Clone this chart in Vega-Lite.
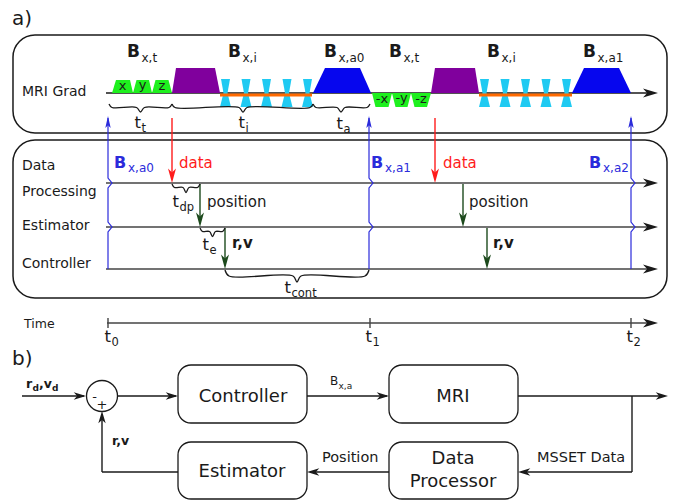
{
"$schema": "https://vega.github.io/schema/vega-lite/v6.json",
"width": 673, "height": 502, "padding": 0, "autosize": {"type": "none"},
"background": "white",
"config": {"view": {"stroke": null}, "font": "DejaVu Sans"},
"datasets": {
"panels": [
{"x":13,"y":35,"x2":667,"y2":133,"grp":"ink"},
{"x":13,"y":140,"x2":667,"y2":298,"grp":"ink"}],
"blocks": [
{"x":178,"y":365,"x2":307,"y2":423,"grp":"ink"},
{"x":389,"y":365,"x2":518,"y2":423,"grp":"ink"},
{"x":178,"y":442,"x2":307,"y2":499,"grp":"ink"},
{"x":389,"y":442,"x2":518,"y2":499,"grp":"ink"}],
"segs": [
{"x":106,"y":93,"x2":652,"y2":93,"grp":"ink"},
{"x":106,"y":183,"x2":652,"y2":183,"grp":"track"},
{"x":106,"y":227,"x2":652,"y2":227,"grp":"track"},
{"x":106,"y":269,"x2":652,"y2":269,"grp":"track"},
{"x":107,"y":323,"x2":652,"y2":323,"grp":"track"},
{"x":108,"y":318,"x2":108,"y2":328,"grp":"track"},
{"x":370,"y":318,"x2":370,"y2":328,"grp":"track"},
{"x":631,"y":318,"x2":631,"y2":328,"grp":"track"},
{"x":172,"y":118,"x2":172,"y2":178,"grp":"data"},
{"x":435,"y":118,"x2":435,"y2":178,"grp":"data"},
{"x":200,"y":184,"x2":200,"y2":222,"grp":"flow"},
{"x":225,"y":228,"x2":225,"y2":264,"grp":"flow"},
{"x":463,"y":184,"x2":463,"y2":222,"grp":"flow"},
{"x":487,"y":228,"x2":487,"y2":264,"grp":"flow"},
{"x":22,"y":396,"x2":84,"y2":396,"grp":"ink"},
{"x":117.5,"y":396,"x2":176,"y2":396,"grp":"ink"},
{"x":307,"y":396,"x2":387,"y2":396,"grp":"ink"},
{"x":518,"y":396,"x2":664,"y2":396,"grp":"ink"},
{"x":632,"y":396,"x2":632,"y2":472,"grp":"ink"},
{"x":632,"y":472,"x2":521,"y2":472,"grp":"ink"},
{"x":389,"y":472,"x2":310,"y2":472,"grp":"ink"},
{"x":178,"y":472,"x2":102,"y2":472,"grp":"ink"},
{"x":102,"y":472,"x2":102,"y2":414,"grp":"ink"}],
"readout": [
{"x":220,"y":95,"x2":312,"y2":95,"grp":"readout"},
{"x":479,"y":95,"x2":572,"y2":95,"grp":"readout"}],
"shapes": [
{"id":"g1","x":112,"y":93,"y2":93,"grp":"tag"},{"id":"g1","x":116,"y":80,"y2":93,"grp":"tag"},{"id":"g1","x":130,"y":80,"y2":93,"grp":"tag"},{"id":"g1","x":133,"y":93,"y2":93,"grp":"tag"},
{"id":"g2","x":133,"y":93,"y2":93,"grp":"tag"},{"id":"g2","x":136.5,"y":80,"y2":93,"grp":"tag"},{"id":"g2","x":149,"y":80,"y2":93,"grp":"tag"},{"id":"g2","x":152,"y":93,"y2":93,"grp":"tag"},
{"id":"g3","x":152,"y":93,"y2":93,"grp":"tag"},{"id":"g3","x":155.5,"y":80,"y2":93,"grp":"tag"},{"id":"g3","x":168.5,"y":80,"y2":93,"grp":"tag"},{"id":"g3","x":172,"y":93,"y2":93,"grp":"tag"},
{"id":"p1","x":172,"y":93,"y2":93,"grp":"prephase"},{"id":"p1","x":176,"y":68,"y2":93,"grp":"prephase"},{"id":"p1","x":215,"y":68,"y2":93,"grp":"prephase"},{"id":"p1","x":220,"y":93,"y2":93,"grp":"prephase"},
{"id":"a1","x":313,"y":93,"y2":93,"grp":"actuation"},{"id":"a1","x":325,"y":68,"y2":93,"grp":"actuation"},{"id":"a1","x":360,"y":68,"y2":93,"grp":"actuation"},{"id":"a1","x":371,"y":93,"y2":93,"grp":"actuation"},
{"id":"n1","x":372,"y":93,"y2":93,"grp":"tag"},{"id":"n1","x":375.5,"y":93,"y2":107,"grp":"tag"},{"id":"n1","x":388.5,"y":93,"y2":107,"grp":"tag"},{"id":"n1","x":392,"y":93,"y2":93,"grp":"tag"},
{"id":"n2","x":392,"y":93,"y2":93,"grp":"tag"},{"id":"n2","x":395.5,"y":93,"y2":107,"grp":"tag"},{"id":"n2","x":407.5,"y":93,"y2":107,"grp":"tag"},{"id":"n2","x":411,"y":93,"y2":93,"grp":"tag"},
{"id":"n3","x":411,"y":93,"y2":93,"grp":"tag"},{"id":"n3","x":414.5,"y":93,"y2":107,"grp":"tag"},{"id":"n3","x":427,"y":93,"y2":107,"grp":"tag"},{"id":"n3","x":431,"y":93,"y2":93,"grp":"tag"},
{"id":"p2","x":431,"y":93,"y2":93,"grp":"prephase"},{"id":"p2","x":435,"y":68,"y2":93,"grp":"prephase"},{"id":"p2","x":475,"y":68,"y2":93,"grp":"prephase"},{"id":"p2","x":479,"y":93,"y2":93,"grp":"prephase"},
{"id":"a2","x":572,"y":93,"y2":93,"grp":"actuation"},{"id":"a2","x":584,"y":68,"y2":93,"grp":"actuation"},{"id":"a2","x":619,"y":68,"y2":93,"grp":"actuation"},{"id":"a2","x":631,"y":93,"y2":93,"grp":"actuation"},
{"id":"u1","x":221,"y":79,"y2":79,"grp":"imaging"},{"id":"u1","x":223.5,"y":79,"y2":93,"grp":"imaging"},{"id":"u1","x":227.5,"y":79,"y2":93,"grp":"imaging"},{"id":"u1","x":230,"y":79,"y2":79,"grp":"imaging"},
{"id":"l1","x":220,"y":107,"y2":107,"grp":"imaging"},{"id":"l1","x":223.5,"y":93,"y2":107,"grp":"imaging"},{"id":"l1","x":227.5,"y":93,"y2":107,"grp":"imaging"},{"id":"l1","x":231,"y":107,"y2":107,"grp":"imaging"},
{"id":"u2","x":241.5,"y":79,"y2":79,"grp":"imaging"},{"id":"u2","x":244,"y":79,"y2":93,"grp":"imaging"},{"id":"u2","x":248,"y":79,"y2":93,"grp":"imaging"},{"id":"u2","x":250.5,"y":79,"y2":79,"grp":"imaging"},
{"id":"l2","x":240.5,"y":107,"y2":107,"grp":"imaging"},{"id":"l2","x":244,"y":93,"y2":107,"grp":"imaging"},{"id":"l2","x":248,"y":93,"y2":107,"grp":"imaging"},{"id":"l2","x":251.5,"y":107,"y2":107,"grp":"imaging"},
{"id":"u3","x":262,"y":79,"y2":79,"grp":"imaging"},{"id":"u3","x":264.5,"y":79,"y2":93,"grp":"imaging"},{"id":"u3","x":268.5,"y":79,"y2":93,"grp":"imaging"},{"id":"u3","x":271,"y":79,"y2":79,"grp":"imaging"},
{"id":"l3","x":261,"y":107,"y2":107,"grp":"imaging"},{"id":"l3","x":264.5,"y":93,"y2":107,"grp":"imaging"},{"id":"l3","x":268.5,"y":93,"y2":107,"grp":"imaging"},{"id":"l3","x":272,"y":107,"y2":107,"grp":"imaging"},
{"id":"u4","x":282.5,"y":79,"y2":79,"grp":"imaging"},{"id":"u4","x":285,"y":79,"y2":93,"grp":"imaging"},{"id":"u4","x":289,"y":79,"y2":93,"grp":"imaging"},{"id":"u4","x":291.5,"y":79,"y2":79,"grp":"imaging"},
{"id":"l4","x":281.5,"y":107,"y2":107,"grp":"imaging"},{"id":"l4","x":285,"y":93,"y2":107,"grp":"imaging"},{"id":"l4","x":289,"y":93,"y2":107,"grp":"imaging"},{"id":"l4","x":292.5,"y":107,"y2":107,"grp":"imaging"},
{"id":"u5","x":303,"y":79,"y2":79,"grp":"imaging"},{"id":"u5","x":305.5,"y":79,"y2":93,"grp":"imaging"},{"id":"u5","x":309.5,"y":79,"y2":93,"grp":"imaging"},{"id":"u5","x":312,"y":79,"y2":79,"grp":"imaging"},
{"id":"l5","x":302,"y":107,"y2":107,"grp":"imaging"},{"id":"l5","x":305.5,"y":93,"y2":107,"grp":"imaging"},{"id":"l5","x":309.5,"y":93,"y2":107,"grp":"imaging"},{"id":"l5","x":313,"y":107,"y2":107,"grp":"imaging"},
{"id":"u6","x":480,"y":79,"y2":79,"grp":"imaging"},{"id":"u6","x":482.5,"y":79,"y2":93,"grp":"imaging"},{"id":"u6","x":486.5,"y":79,"y2":93,"grp":"imaging"},{"id":"u6","x":489,"y":79,"y2":79,"grp":"imaging"},
{"id":"l6","x":479,"y":107,"y2":107,"grp":"imaging"},{"id":"l6","x":482.5,"y":93,"y2":107,"grp":"imaging"},{"id":"l6","x":486.5,"y":93,"y2":107,"grp":"imaging"},{"id":"l6","x":490,"y":107,"y2":107,"grp":"imaging"},
{"id":"u7","x":500.5,"y":79,"y2":79,"grp":"imaging"},{"id":"u7","x":503,"y":79,"y2":93,"grp":"imaging"},{"id":"u7","x":507,"y":79,"y2":93,"grp":"imaging"},{"id":"u7","x":509.5,"y":79,"y2":79,"grp":"imaging"},
{"id":"l7","x":499.5,"y":107,"y2":107,"grp":"imaging"},{"id":"l7","x":503,"y":93,"y2":107,"grp":"imaging"},{"id":"l7","x":507,"y":93,"y2":107,"grp":"imaging"},{"id":"l7","x":510.5,"y":107,"y2":107,"grp":"imaging"},
{"id":"u8","x":521,"y":79,"y2":79,"grp":"imaging"},{"id":"u8","x":523.5,"y":79,"y2":93,"grp":"imaging"},{"id":"u8","x":527.5,"y":79,"y2":93,"grp":"imaging"},{"id":"u8","x":530,"y":79,"y2":79,"grp":"imaging"},
{"id":"l8","x":520,"y":107,"y2":107,"grp":"imaging"},{"id":"l8","x":523.5,"y":93,"y2":107,"grp":"imaging"},{"id":"l8","x":527.5,"y":93,"y2":107,"grp":"imaging"},{"id":"l8","x":531,"y":107,"y2":107,"grp":"imaging"},
{"id":"u9","x":541.5,"y":79,"y2":79,"grp":"imaging"},{"id":"u9","x":544,"y":79,"y2":93,"grp":"imaging"},{"id":"u9","x":548,"y":79,"y2":93,"grp":"imaging"},{"id":"u9","x":550.5,"y":79,"y2":79,"grp":"imaging"},
{"id":"l9","x":540.5,"y":107,"y2":107,"grp":"imaging"},{"id":"l9","x":544,"y":93,"y2":107,"grp":"imaging"},{"id":"l9","x":548,"y":93,"y2":107,"grp":"imaging"},{"id":"l9","x":551.5,"y":107,"y2":107,"grp":"imaging"},
{"id":"u10","x":562,"y":79,"y2":79,"grp":"imaging"},{"id":"u10","x":564.5,"y":79,"y2":93,"grp":"imaging"},{"id":"u10","x":568.5,"y":79,"y2":93,"grp":"imaging"},{"id":"u10","x":571,"y":79,"y2":79,"grp":"imaging"},
{"id":"l10","x":561,"y":107,"y2":107,"grp":"imaging"},{"id":"l10","x":564.5,"y":93,"y2":107,"grp":"imaging"},{"id":"l10","x":568.5,"y":93,"y2":107,"grp":"imaging"},{"id":"l10","x":572,"y":107,"y2":107,"grp":"imaging"}],
"braces": [
{"id":"bt","i":0,"x":109,"y":104,"grp":"ink"},{"id":"bt","i":1,"x":112,"y":107.5,"grp":"ink"},{"id":"bt","i":2,"x":136.5,"y":107.5,"grp":"ink"},{"id":"bt","i":3,"x":140.5,"y":112,"grp":"ink"},{"id":"bt","i":4,"x":144.5,"y":107.5,"grp":"ink"},{"id":"bt","i":5,"x":169,"y":107.5,"grp":"ink"},{"id":"bt","i":6,"x":172,"y":104,"grp":"ink"},
{"id":"bi","i":0,"x":172,"y":104,"grp":"ink"},{"id":"bi","i":1,"x":175,"y":107.5,"grp":"ink"},{"id":"bi","i":2,"x":239,"y":107.5,"grp":"ink"},{"id":"bi","i":3,"x":243,"y":112,"grp":"ink"},{"id":"bi","i":4,"x":247,"y":107.5,"grp":"ink"},{"id":"bi","i":5,"x":310,"y":107.5,"grp":"ink"},{"id":"bi","i":6,"x":313,"y":104,"grp":"ink"},
{"id":"ba","i":0,"x":313,"y":104,"grp":"ink"},{"id":"ba","i":1,"x":316,"y":107.5,"grp":"ink"},{"id":"ba","i":2,"x":337,"y":107.5,"grp":"ink"},{"id":"ba","i":3,"x":341,"y":112,"grp":"ink"},{"id":"ba","i":4,"x":345,"y":107.5,"grp":"ink"},{"id":"ba","i":5,"x":367,"y":107.5,"grp":"ink"},{"id":"ba","i":6,"x":370,"y":104,"grp":"ink"},
{"id":"bd","i":0,"x":172,"y":184,"grp":"ink"},{"id":"bd","i":1,"x":174.5,"y":187.5,"grp":"ink"},{"id":"bd","i":2,"x":183,"y":187.5,"grp":"ink"},{"id":"bd","i":3,"x":186,"y":192.5,"grp":"ink"},{"id":"bd","i":4,"x":189,"y":187.5,"grp":"ink"},{"id":"bd","i":5,"x":197.5,"y":187.5,"grp":"ink"},{"id":"bd","i":6,"x":200,"y":184,"grp":"ink"},
{"id":"be","i":0,"x":200,"y":228,"grp":"ink"},{"id":"be","i":1,"x":202.5,"y":231.5,"grp":"ink"},{"id":"be","i":2,"x":209.5,"y":231.5,"grp":"ink"},{"id":"be","i":3,"x":212.5,"y":236.5,"grp":"ink"},{"id":"be","i":4,"x":215.5,"y":231.5,"grp":"ink"},{"id":"be","i":5,"x":222.5,"y":231.5,"grp":"ink"},{"id":"be","i":6,"x":225,"y":228,"grp":"ink"},
{"id":"bc","i":0,"x":225,"y":270,"grp":"ink"},{"id":"bc","i":1,"x":229,"y":276,"grp":"ink"},{"id":"bc","i":2,"x":293,"y":276,"grp":"ink"},{"id":"bc","i":3,"x":297,"y":282,"grp":"ink"},{"id":"bc","i":4,"x":301,"y":276,"grp":"ink"},{"id":"bc","i":5,"x":365,"y":276,"grp":"ink"},{"id":"bc","i":6,"x":369,"y":270,"grp":"ink"}],
"syncs": [
{"id":"s0","i":0,"x":108,"y":118,"grp":"acq"},{"id":"s0","i":1,"x":108,"y":178,"grp":"acq"},{"id":"s0","i":2,"x":112,"y":183,"grp":"acq"},{"id":"s0","i":3,"x":108,"y":188,"grp":"acq"},{"id":"s0","i":4,"x":108,"y":222,"grp":"acq"},{"id":"s0","i":5,"x":112,"y":227,"grp":"acq"},{"id":"s0","i":6,"x":108,"y":232,"grp":"acq"},{"id":"s0","i":7,"x":108,"y":269,"grp":"acq"},
{"id":"s1","i":0,"x":369,"y":118,"grp":"acq"},{"id":"s1","i":1,"x":369,"y":178,"grp":"acq"},{"id":"s1","i":2,"x":373,"y":183,"grp":"acq"},{"id":"s1","i":3,"x":369,"y":188,"grp":"acq"},{"id":"s1","i":4,"x":369,"y":222,"grp":"acq"},{"id":"s1","i":5,"x":373,"y":227,"grp":"acq"},{"id":"s1","i":6,"x":369,"y":232,"grp":"acq"},{"id":"s1","i":7,"x":369,"y":269,"grp":"acq"},
{"id":"s2","i":0,"x":631,"y":118,"grp":"acq"},{"id":"s2","i":1,"x":631,"y":178,"grp":"acq"},{"id":"s2","i":2,"x":635,"y":183,"grp":"acq"},{"id":"s2","i":3,"x":631,"y":188,"grp":"acq"},{"id":"s2","i":4,"x":631,"y":222,"grp":"acq"},{"id":"s2","i":5,"x":635,"y":227,"grp":"acq"},{"id":"s2","i":6,"x":631,"y":232,"grp":"acq"},{"id":"s2","i":7,"x":631,"y":269,"grp":"acq"}],
"sum": [{"x":102,"y":396,"grp":"ink"}],
"heads": [
{"dir":"rt","x":658,"y":93,"grp":"ink"},{"dir":"rt","x":658,"y":183,"grp":"ink"},{"dir":"rt","x":658,"y":227,"grp":"ink"},{"dir":"rt","x":658,"y":269,"grp":"ink"},{"dir":"rt","x":658,"y":323,"grp":"ink"},
{"dir":"rb","x":86,"y":396,"grp":"ink"},{"dir":"rb","x":178,"y":396,"grp":"ink"},{"dir":"rb","x":389,"y":396,"grp":"ink"},{"dir":"rb","x":668,"y":396,"grp":"ink"},
{"dir":"l","x":518,"y":472,"grp":"ink"},{"dir":"l","x":307,"y":472,"grp":"ink"},
{"dir":"u","x":102,"y":411,"grp":"ink"},
{"dir":"us","x":108,"y":116,"grp":"acq"},{"dir":"us","x":369,"y":116,"grp":"acq"},{"dir":"us","x":631,"y":116,"grp":"acq"},
{"dir":"d","x":172,"y":183,"grp":"data"},{"dir":"d","x":435,"y":183,"grp":"data"},
{"dir":"d","x":200,"y":227,"grp":"flow"},{"dir":"d","x":225,"y":269,"grp":"flow"},{"dir":"d","x":463,"y":227,"grp":"flow"},{"dir":"d","x":487,"y":269,"grp":"flow"}],
"labels": [
{"t":"a)","x":12,"y":25,"role":"hdr","grp":"ink"},{"t":"b)","x":12,"y":365,"role":"hdr","grp":"ink"},
{"t":"MRI Grad","x":22,"y":96,"role":"row","grp":"ink"},{"t":"Data","x":22,"y":170,"role":"row","grp":"ink"},{"t":"Processing","x":22,"y":196,"role":"row","grp":"ink"},{"t":"Estimator","x":22,"y":230,"role":"row","grp":"ink"},{"t":"Controller","x":22,"y":268,"role":"row","grp":"ink"},
{"t":"Time","x":24,"y":328,"role":"time","grp":"ink"},
{"t":"x","x":122.5,"y":90,"role":"tag","grp":"ink"},{"t":"y","x":142.5,"y":89,"role":"tag","grp":"ink"},{"t":"z","x":162,"y":90,"role":"tag","grp":"ink"},
{"t":"-x","x":382,"y":103,"role":"tag","grp":"ink"},{"t":"-y","x":401.5,"y":102,"role":"tag","grp":"ink"},{"t":"-z","x":421,"y":103,"role":"tag","grp":"ink"},
{"t":"B","x":127,"y":57,"role":"bB","grp":"ink"},{"t":"B","x":228,"y":57,"role":"bB","grp":"ink"},{"t":"B","x":324,"y":57,"role":"bB","grp":"ink"},{"t":"B","x":389,"y":57,"role":"bB","grp":"ink"},{"t":"B","x":487,"y":57,"role":"bB","grp":"ink"},{"t":"B","x":583,"y":57,"role":"bB","grp":"ink"},
{"t":"B","x":114,"y":168,"role":"bBb","grp":"acq"},{"t":"B","x":371,"y":168,"role":"bBb","grp":"acq"},{"t":"B","x":589,"y":168,"role":"bBb","grp":"acq"},
{"t":"x,t","x":141.5,"y":62,"role":"bS","grp":"ink"},{"t":"x,i","x":242.5,"y":62,"role":"bS","grp":"ink"},{"t":"x,a0","x":338.5,"y":62,"role":"bS","grp":"ink"},{"t":"x,t","x":403.5,"y":62,"role":"bS","grp":"ink"},{"t":"x,i","x":501.5,"y":62,"role":"bS","grp":"ink"},{"t":"x,a1","x":597.5,"y":62,"role":"bS","grp":"ink"},
{"t":"x,a0","x":128,"y":172,"role":"bS","grp":"acq"},{"t":"x,a1","x":385,"y":172,"role":"bS","grp":"acq"},{"t":"x,a2","x":603,"y":172,"role":"bS","grp":"acq"},
{"t":"t","x":134.5,"y":128,"role":"tM","grp":"ink"},{"t":"t","x":238.5,"y":128,"role":"tM","grp":"ink"},{"t":"t","x":336.5,"y":129,"role":"tM","grp":"ink"},{"t":"t","x":172.5,"y":207,"role":"tM","grp":"ink"},{"t":"t","x":202.5,"y":250,"role":"tM","grp":"ink"},{"t":"t","x":284.5,"y":293,"role":"tM","grp":"ink"},{"t":"t","x":104.5,"y":342,"role":"tM","grp":"ink"},{"t":"t","x":365.5,"y":342,"role":"tM","grp":"ink"},{"t":"t","x":626.5,"y":342,"role":"tM","grp":"ink"},
{"t":"t","x":141.5,"y":132,"role":"tS","grp":"ink"},{"t":"i","x":245.5,"y":132,"role":"tS","grp":"ink"},{"t":"a","x":343.5,"y":133,"role":"tS","grp":"ink"},{"t":"dp","x":179.5,"y":211,"role":"tS","grp":"ink"},{"t":"e","x":209.5,"y":254,"role":"tS","grp":"ink"},{"t":"cont","x":291.5,"y":297,"role":"tS","grp":"ink"},{"t":"0","x":111.5,"y":346,"role":"tS","grp":"ink"},{"t":"1","x":372.5,"y":346,"role":"tS","grp":"ink"},{"t":"2","x":633.5,"y":346,"role":"tS","grp":"ink"},
{"t":"data","x":179,"y":168,"role":"note","grp":"data"},{"t":"data","x":443,"y":168,"role":"note","grp":"data"},{"t":"position","x":207,"y":207,"role":"note","grp":"ink"},{"t":"position","x":469,"y":207,"role":"note","grp":"ink"},
{"t":"r,v","x":232,"y":248,"role":"nB","grp":"ink"},{"t":"r,v","x":493,"y":248,"role":"nB","grp":"ink"},
{"t":"Controller","x":243,"y":402,"role":"blk","grp":"ink"},{"t":"MRI","x":453,"y":402,"role":"blk","grp":"ink"},{"t":"Estimator","x":242,"y":477,"role":"blk","grp":"ink"},{"t":"Data","x":453,"y":464,"role":"blk","grp":"ink"},{"t":"Processor","x":453,"y":487,"role":"blk","grp":"ink"},
{"t":"Position","x":322,"y":462,"role":"edge","grp":"ink"},{"t":"MSSET Data","x":537,"y":462,"role":"edge","grp":"ink"},
{"t":"B","x":330,"y":385,"role":"eB","grp":"ink"},{"t":"x,a","x":338.5,"y":389,"role":"eS","grp":"ink"},
{"t":"r","x":26,"y":388,"role":"fB","grp":"ink"},{"t":",v","x":39,"y":388,"role":"fB","grp":"ink"},{"t":"r,v","x":112,"y":445,"role":"fB","grp":"ink"},
{"t":"d","x":32.5,"y":391,"role":"fS","grp":"ink"},{"t":"d","x":52,"y":391,"role":"fS","grp":"ink"},
{"t":"-","x":94.5,"y":397,"role":"sign","grp":"ink"},{"t":"+","x":102,"y":405,"role":"sign","grp":"ink"}]
},
"encoding": {
"x": {"field":"x","type":"quantitative","scale":{"domain":[0,673],"nice":false,"zero":false},"axis":null},
"y": {"field":"y","type":"quantitative","scale":{"domain":[0,502],"reverse":true,"nice":false,"zero":false},"axis":null},
"color": {"field":"grp","type":"nominal","legend":null,"scale":{"domain":["ink","track","data","flow","acq","readout","imaging","prephase","tag","actuation"],"range":["#1a1a1a","#444444","#ff1c1c","#1d4a1d","#2b2bdb","#ff6a00","#1fcaf2","#80009d","#1ef01e","#0606ee"]}}
},
"layer": [
{"data":{"name":"panels"},"mark":{"type":"rect","filled":false,"cornerRadius":22,"strokeWidth":1.5},"encoding":{"x2":{"field":"x2"},"y2":{"field":"y2"}}},
{"data":{"name":"blocks"},"mark":{"type":"rect","filled":false,"cornerRadius":13,"strokeWidth":1.3},"encoding":{"x2":{"field":"x2"},"y2":{"field":"y2"}}},
{"data":{"name":"segs"},"mark":{"type":"rule","strokeWidth":1.4},"encoding":{"x2":{"field":"x2"},"y2":{"field":"y2"}}},
{"data":{"name":"shapes"},"mark":{"type":"area","orient":"vertical","opacity":1},"encoding":{"y2":{"field":"y2"},"detail":{"field":"id"}}},
{"data":{"name":"readout"},"mark":{"type":"rule","strokeWidth":3},"encoding":{"x2":{"field":"x2"},"y2":{"field":"y2"}}},
{"data":{"name":"braces"},"mark":{"type":"line","interpolate":"catmull-rom","strokeWidth":1.3},"encoding":{"detail":{"field":"id"},"order":{"field":"i","type":"quantitative"}}},
{"data":{"name":"syncs"},"mark":{"type":"line","strokeWidth":1.2},"encoding":{"detail":{"field":"id"},"order":{"field":"i","type":"quantitative"}}},
{"data":{"name":"sum"},"mark":{"type":"point","shape":"circle","size":961,"filled":false,"strokeWidth":1.3,"opacity":1},"encoding":{}},
{"data":{"name":"heads"},"transform":[{"filter":"datum.dir==='rt'"}],"mark":{"type":"point","filled":true,"opacity":1,"size":225,"shape":"M0,0L-2,-0.6L-1.45,0L-2,0.6Z"},"encoding":{}},
{"data":{"name":"heads"},"transform":[{"filter":"datum.dir==='rb'"}],"mark":{"type":"point","filled":true,"opacity":1,"size":150,"shape":"M0,0L-2,-0.6L-1.45,0L-2,0.6Z"},"encoding":{}},
{"data":{"name":"heads"},"transform":[{"filter":"datum.dir==='l'"}],"mark":{"type":"point","filled":true,"opacity":1,"size":150,"shape":"M0,0L2,-0.6L1.45,0L2,0.6Z"},"encoding":{}},
{"data":{"name":"heads"},"transform":[{"filter":"datum.dir==='u'"}],"mark":{"type":"point","filled":true,"opacity":1,"size":150,"shape":"M0,0L-0.6,2L0,1.45L0.6,2Z"},"encoding":{}},
{"data":{"name":"heads"},"transform":[{"filter":"datum.dir==='us'"}],"mark":{"type":"point","filled":true,"opacity":1,"size":144,"shape":"M0,0L-0.45,2L0,1.55L0.45,2Z"},"encoding":{}},
{"data":{"name":"heads"},"transform":[{"filter":"datum.dir==='d'"}],"mark":{"type":"point","filled":true,"opacity":1,"size":210,"shape":"M0,0L-0.55,-2L0,-1.45L0.55,-2Z"},"encoding":{}},
{"data":{"name":"labels"},"transform":[{"filter":"datum.role==='hdr'"}],"mark":{"type":"text","align":"left","baseline":"alphabetic","fontSize":20},"encoding":{"text":{"field":"t"}}},
{"data":{"name":"labels"},"transform":[{"filter":"datum.role==='row'"}],"mark":{"type":"text","align":"left","baseline":"alphabetic","fontSize":14},"encoding":{"text":{"field":"t"}}},
{"data":{"name":"labels"},"transform":[{"filter":"datum.role==='time'"}],"mark":{"type":"text","align":"left","baseline":"alphabetic","fontSize":12.5},"encoding":{"text":{"field":"t"}}},
{"data":{"name":"labels"},"transform":[{"filter":"datum.role==='tag'"}],"mark":{"type":"text","align":"center","baseline":"alphabetic","fontSize":13},"encoding":{"text":{"field":"t"}}},
{"data":{"name":"labels"},"transform":[{"filter":"datum.role==='bB'"}],"mark":{"type":"text","align":"left","baseline":"alphabetic","fontSize":17,"fontWeight":"bold"},"encoding":{"text":{"field":"t"}}},
{"data":{"name":"labels"},"transform":[{"filter":"datum.role==='bBb'"}],"mark":{"type":"text","align":"left","baseline":"alphabetic","fontSize":16,"fontWeight":"bold"},"encoding":{"text":{"field":"t"}}},
{"data":{"name":"labels"},"transform":[{"filter":"datum.role==='bS'"}],"mark":{"type":"text","align":"left","baseline":"alphabetic","fontSize":12},"encoding":{"text":{"field":"t"}}},
{"data":{"name":"labels"},"transform":[{"filter":"datum.role==='tM'"}],"mark":{"type":"text","align":"left","baseline":"alphabetic","fontSize":16.5},"encoding":{"text":{"field":"t"}}},
{"data":{"name":"labels"},"transform":[{"filter":"datum.role==='tS'"}],"mark":{"type":"text","align":"left","baseline":"alphabetic","fontSize":11.5},"encoding":{"text":{"field":"t"}}},
{"data":{"name":"labels"},"transform":[{"filter":"datum.role==='note'"}],"mark":{"type":"text","align":"left","baseline":"alphabetic","fontSize":15},"encoding":{"text":{"field":"t"}}},
{"data":{"name":"labels"},"transform":[{"filter":"datum.role==='nB'"}],"mark":{"type":"text","align":"left","baseline":"alphabetic","fontSize":15,"fontWeight":"bold"},"encoding":{"text":{"field":"t"}}},
{"data":{"name":"labels"},"transform":[{"filter":"datum.role==='blk'"}],"mark":{"type":"text","align":"center","baseline":"alphabetic","fontSize":18},"encoding":{"text":{"field":"t"}}},
{"data":{"name":"labels"},"transform":[{"filter":"datum.role==='edge'"}],"mark":{"type":"text","align":"left","baseline":"alphabetic","fontSize":14.5},"encoding":{"text":{"field":"t"}}},
{"data":{"name":"labels"},"transform":[{"filter":"datum.role==='eB'"}],"mark":{"type":"text","align":"left","baseline":"alphabetic","fontSize":12},"encoding":{"text":{"field":"t"}}},
{"data":{"name":"labels"},"transform":[{"filter":"datum.role==='eS'"}],"mark":{"type":"text","align":"left","baseline":"alphabetic","fontSize":9},"encoding":{"text":{"field":"t"}}},
{"data":{"name":"labels"},"transform":[{"filter":"datum.role==='fB'"}],"mark":{"type":"text","align":"left","baseline":"alphabetic","fontSize":12.5,"fontWeight":"bold"},"encoding":{"text":{"field":"t"}}},
{"data":{"name":"labels"},"transform":[{"filter":"datum.role==='fS'"}],"mark":{"type":"text","align":"left","baseline":"alphabetic","fontSize":9,"fontWeight":"bold"},"encoding":{"text":{"field":"t"}}},
{"data":{"name":"labels"},"transform":[{"filter":"datum.role==='sign'"}],"mark":{"type":"text","align":"center","baseline":"middle","fontSize":13},"encoding":{"text":{"field":"t"}}}
]
}
